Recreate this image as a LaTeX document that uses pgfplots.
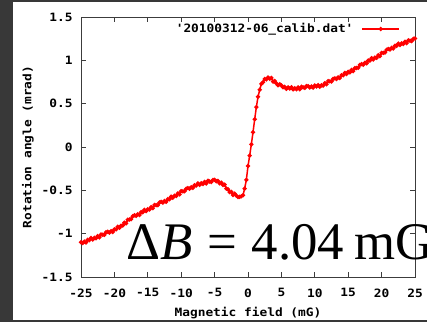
\documentclass[border=0pt]{standalone}
\usepackage{pgfplots}
\pgfplotsset{compat=1.18}
\usepackage{fontspec}
\newfontfamily\gmono[FakeStretch=1.12]{DejaVu Sans Mono}
\newfontfamily\tnr{Liberation Serif}
\definecolor{bgdark}{RGB}{56,56,56}
\definecolor{axgray}{RGB}{60,60,60}
\newcommand{\gfont}{\gmono\bfseries\fontsize{11.5}{13}\selectfont}
\begin{document}
\begin{tikzpicture}[x=1bp,y=1bp]
\fill[bgdark] (0,0) rectangle (427,322);
\fill[white] (13,2) rectangle (427,320);
\begin{axis}[
  at={(81bp,45bp)}, anchor=south west,
  scale only axis, width=334bp, height=260bp,
  xmin=-25, xmax=25, ymin=-1.5, ymax=1.5,
  xtick={-25,-20,...,25},
  xticklabels={-25,-20,-15,-10,-5,0,5,10,15,20,25},
  ytick={-1.5,-1,-0.5,0,0.5,1,1.5},
  yticklabels={-1.5,-1,-0.5,0,0.5,1,1.5},
  tick align=inside, major tick length=5bp,
  axis line style={axgray, line width=0.8bp},
  every tick/.style={axgray, line width=0.8bp},
  ticklabel style={font=\gfont},
  xticklabel style={yshift=-8bp},
  yticklabel style={xshift=-5bp},
  label style={font=\gfont},
  xlabel={Magnetic field (mG)},
  ylabel={Rotation angle (mrad)},
  xlabel style={at={(axis description cs:0.5,-0.1385)}, anchor=center},
  ylabel style={at={(axis description cs:-0.1587,0.5)}, anchor=center},
  legend plot pos=right,
  legend style={draw=none, fill=none, inner sep=0pt, outer sep=0pt,
    at={(rel axis cs:0.955,0.954)}, anchor=east, font=\gfont,
    nodes={inner sep=0pt},
    /tikz/every odd column/.append style={column sep=8bp}},
  legend image code/.code={\draw[mark repeat=2,mark phase=2,#1] plot coordinates {(0bp,0bp) (18.5bp,0bp) (37bp,0bp)};},
  clip=true,
]
\addplot[red, line width=1.5bp, mark=*, mark size=1.3bp] table {
x y
-25.00 -1.098
-24.75 -1.108
-24.50 -1.091
-24.25 -1.101
-24.00 -1.071
-23.75 -1.075
-23.50 -1.050
-23.25 -1.067
-23.00 -1.048
-22.75 -1.054
-22.50 -1.028
-22.25 -1.043
-22.00 -1.009
-21.75 -1.012
-21.50 -1.013
-21.25 -0.984
-21.00 -0.978
-20.75 -0.988
-20.50 -0.971
-20.25 -0.981
-20.00 -0.951
-19.75 -0.950
-19.50 -0.920
-19.25 -0.932
-19.00 -0.908
-18.75 -0.907
-18.50 -0.873
-18.25 -0.881
-18.00 -0.839
-17.75 -0.837
-17.50 -0.833
-17.25 -0.799
-17.00 -0.788
-16.75 -0.796
-16.50 -0.776
-16.25 -0.784
-16.00 -0.751
-15.75 -0.753
-15.50 -0.725
-15.25 -0.740
-15.00 -0.718
-14.75 -0.722
-14.50 -0.693
-14.25 -0.706
-14.00 -0.669
-13.75 -0.671
-13.50 -0.671
-13.25 -0.641
-13.00 -0.633
-12.75 -0.642
-12.50 -0.624
-12.25 -0.633
-12.00 -0.601
-11.75 -0.602
-11.50 -0.573
-11.25 -0.586
-11.00 -0.563
-10.75 -0.566
-10.50 -0.536
-10.25 -0.547
-10.00 -0.509
-9.75 -0.511
-9.50 -0.511
-9.25 -0.481
-9.00 -0.473
-8.75 -0.482
-8.50 -0.464
-8.25 -0.473
-8.00 -0.441
-7.75 -0.446
-7.50 -0.420
-7.25 -0.438
-7.00 -0.418
-6.75 -0.427
-6.50 -0.403
-6.25 -0.421
-6.00 -0.389
-5.75 -0.398
-5.50 -0.403
-5.25 -0.380
-5.00 -0.378
-4.75 -0.396
-4.50 -0.391
-4.25 -0.419
-4.00 -0.411
-3.75 -0.438
-3.50 -0.435
-3.25 -0.480
-3.00 -0.488
-2.75 -0.520
-2.50 -0.518
-2.25 -0.554
-2.00 -0.539
-1.75 -0.560
-1.50 -0.578
-1.25 -0.575
-1.00 -0.569
-0.75 -0.556
-0.50 -0.480
-0.25 -0.380
0.00 -0.220
0.25 -0.100
0.50 0.030
0.75 0.170
1.00 0.320
1.25 0.460
1.50 0.580
1.75 0.660
2.00 0.729
2.25 0.747
2.50 0.785
2.75 0.780
3.00 0.802
3.25 0.788
3.50 0.797
3.75 0.754
4.00 0.761
4.25 0.735
4.50 0.712
4.75 0.723
5.00 0.712
5.25 0.689
5.50 0.694
5.75 0.671
6.00 0.689
6.25 0.675
6.50 0.690
6.75 0.665
7.00 0.677
7.25 0.666
7.50 0.687
7.75 0.667
8.00 0.696
8.25 0.688
8.50 0.682
8.75 0.703
9.00 0.702
9.25 0.687
9.50 0.699
9.75 0.684
10.00 0.709
10.25 0.697
10.50 0.715
10.75 0.695
11.00 0.712
11.25 0.708
11.50 0.737
11.75 0.724
12.00 0.761
12.25 0.758
12.50 0.757
12.75 0.786
13.00 0.792
13.25 0.784
13.50 0.804
13.75 0.796
14.00 0.829
14.25 0.827
14.50 0.855
14.75 0.843
15.00 0.867
15.25 0.862
15.50 0.890
15.75 0.875
16.00 0.911
16.25 0.911
16.50 0.915
16.75 0.947
17.00 0.957
17.25 0.950
17.50 0.972
17.75 0.965
18.00 0.999
18.25 0.997
18.50 1.025
18.75 1.010
19.00 1.032
19.25 1.029
19.50 1.060
19.75 1.048
20.00 1.086
20.25 1.086
20.50 1.090
20.75 1.122
21.00 1.132
21.25 1.124
21.50 1.144
21.75 1.136
22.00 1.169
22.25 1.166
22.50 1.193
22.75 1.176
23.00 1.197
23.25 1.189
23.50 1.215
23.75 1.198
24.00 1.231
24.25 1.225
24.50 1.222
24.75 1.248
25.00 1.252
};
\addlegendentry{'20100312-06\_calib.dat'}
\end{axis}
\node[anchor=base west, inner sep=0pt] at (126,63) {\tnr\fontsize{53}{62}\selectfont Δ\textit{B}\hspace{0.28em}=\hspace{0.28em}4.04\hspace{0.2em}mG};
\pgfresetboundingbox
\useasboundingbox (0,0) rectangle (427,322);
\end{tikzpicture}
\end{document}
